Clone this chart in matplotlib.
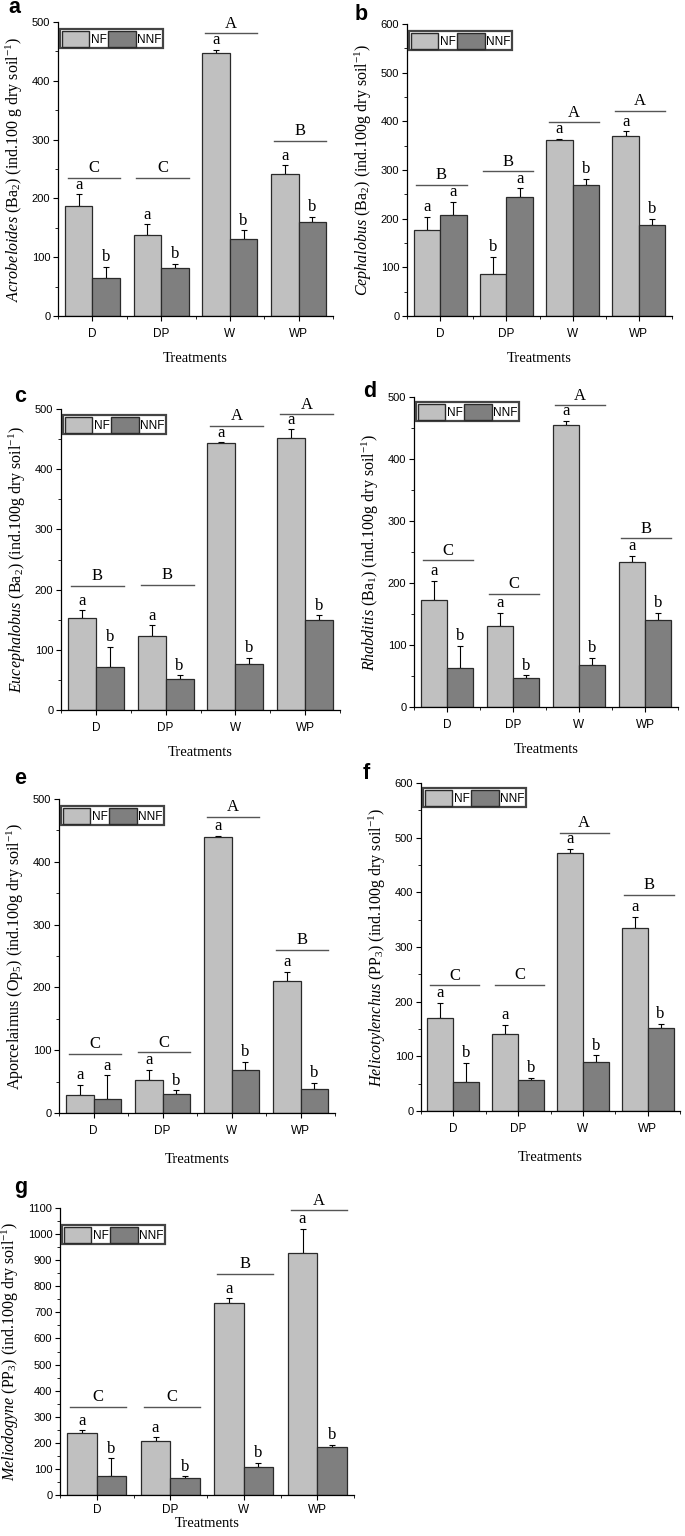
import matplotlib
matplotlib.use('Agg')
import matplotlib.pyplot as plt
import numpy as np
from matplotlib.patches import Patch
from matplotlib.ticker import MultipleLocator

plt.rcParams['mathtext.fontset'] = 'custom'
plt.rcParams['mathtext.rm'] = 'Liberation Serif'
plt.rcParams['mathtext.it'] = 'Liberation Serif:italic'
plt.rcParams['mathtext.bf'] = 'Liberation Serif:bold'

treatments = ['D', 'DP', 'W', 'WP']

# a - Acrobeloides
a_nf = [187, 137, 447, 241]
a_nf_se = [20, 19, 6, 15]
a_nnf = [65, 82, 131, 160]
a_nnf_se = [19, 7, 15, 9]
a_nf_let = ['a', 'a', 'a', 'a']
a_nnf_let = ['b', 'b', 'b', 'b']
a_grp = ['C', 'C', 'A', 'B']
a_grp_y = [235, 235, 481, 298]

# b - Cephalobus
b_nf = [176, 87, 362, 369]
b_nf_se = [28, 35, 2, 11]
b_nnf = [208, 244, 270, 188]
b_nnf_se = [27, 19, 12, 12]
b_nf_let = ['a', 'b', 'a', 'a']
b_nnf_let = ['a', 'a', 'b', 'b']
b_grp = ['B', 'B', 'A', 'A']
b_grp_y = [270, 297, 398, 422]

# c - Eucephalobus
c_nf = [153, 123, 443, 451]
c_nf_se = [13, 18, 2, 15]
c_nnf = [72, 52, 76, 149]
c_nnf_se = [33, 6, 11, 8]
c_nf_let = ['a', 'a', 'a', 'a']
c_nnf_let = ['b', 'b', 'b', 'b']
c_grp = ['B', 'B', 'A', 'A']
c_grp_y = [206, 208, 472, 491]

# d - Rhabditis
d_nf = [173, 131, 455, 234]
d_nf_se = [31, 21, 7, 10]
d_nnf = [63, 46, 68, 141]
d_nnf_se = [36, 5, 11, 11]
d_nf_let = ['a', 'a', 'a', 'a']
d_nnf_let = ['b', 'b', 'b', 'b']
d_grp = ['C', 'C', 'A', 'B']
d_grp_y = [237, 183, 487, 272]

# e - Aporcelaimus
e_nf = [28, 53, 439, 210]
e_nf_se = [17, 16, 2, 15]
e_nnf = [23, 31, 68, 38]
e_nnf_se = [37, 5, 14, 10]
e_nf_let = ['a', 'a', 'a', 'a']
e_nnf_let = ['a', 'b', 'b', 'b']
e_grp = ['C', 'C', 'A', 'B']
e_grp_y = [94, 97, 472, 260]

# f - Helicotylenchus
f_nf = [171, 141, 472, 335]
f_nf_se = [27, 17, 8, 20]
f_nnf = [53, 56, 90, 152]
f_nnf_se = [35, 5, 12, 8]
f_nf_let = ['a', 'a', 'a', 'a']
f_nnf_let = ['b', 'b', 'b', 'b']
f_grp = ['C', 'C', 'A', 'B']
f_grp_y = [230, 231, 509, 396]

# g - Meliodogyne
g_nf = [238, 206, 735, 929]
g_nf_se = [11, 16, 20, 92]
g_nnf = [72, 66, 106, 184]
g_nnf_se = [70, 7, 17, 9]
g_nf_let = ['a', 'a', 'a', 'a']
g_nnf_let = ['b', 'b', 'b', 'b']
g_grp = ['C', 'C', 'B', 'A']
g_grp_y = [339, 339, 848, 1091]

ylabels = {
    'a': r'$\it{Acrobeloides}$ (Ba$_2$) (ind.100 g dry soil$^{-1}$)',
    'b': r'$\it{Cephalobus}$ (Ba$_2$) (ind.100g dry soil$^{-1}$)',
    'c': r'$\it{Eucephalobus}$ (Ba$_2$) (ind.100g dry soil$^{-1}$)',
    'd': r'$\it{Rhabditis}$ (Ba$_1$) (ind.100g dry soil$^{-1}$)',
    'e': r'Aporcelaimus (Op$_5$) (ind.100g dry soil$^{-1}$)',
    'f': r'$\it{Helicotylenchus}$ (PP$_3$) (ind.100g dry soil$^{-1}$)',
    'g': r'$\it{Meliodogyne}$ (PP$_3$) (ind.100g dry soil$^{-1}$)',
}

panels = {
    'a': (a_nf, a_nf_se, a_nnf, a_nnf_se, a_nf_let, a_nnf_let, a_grp, a_grp_y),
    'b': (b_nf, b_nf_se, b_nnf, b_nnf_se, b_nf_let, b_nnf_let, b_grp, b_grp_y),
    'c': (c_nf, c_nf_se, c_nnf, c_nnf_se, c_nf_let, c_nnf_let, c_grp, c_grp_y),
    'd': (d_nf, d_nf_se, d_nnf, d_nnf_se, d_nf_let, d_nnf_let, d_grp, d_grp_y),
    'e': (e_nf, e_nf_se, e_nnf, e_nnf_se, e_nf_let, e_nnf_let, e_grp, e_grp_y),
    'f': (f_nf, f_nf_se, f_nnf, f_nnf_se, f_nf_let, f_nnf_let, f_grp, f_grp_y),
    'g': (g_nf, g_nf_se, g_nnf, g_nnf_se, g_nf_let, g_nnf_let, g_grp, g_grp_y),
}

W, H = 685, 1536
# axes boxes in pixels: left, top, right, bottom ; ymax, ystep
layout = {
    'a': (58, 22, 333, 316, 500, 100),
    'b': (407, 24, 672, 316, 600, 100),
    'c': (61, 409, 340, 710, 500, 100),
    'd': (414, 397, 678, 707, 500, 100),
    'e': (59, 799, 335, 1113, 500, 100),
    'f': (421, 783, 680, 1111, 600, 100),
    'g': (60, 1208, 354, 1495, 1100, 100),
}
# panel letter: left x, baseline y (pixels)
letter_pos = {'a': (8, 13), 'b': (355, 20), 'c': (14, 402), 'd': (363, 397),
              'e': (14, 784), 'f': (363, 779), 'g': (14, 1193)}
legend_top = {'a': 27, 'b': 29, 'c': 413, 'd': 400, 'e': 804, 'f': 786, 'g': 1223}
xlabel_pad = {'a': 9, 'b': 9, 'c': 9, 'd': 9, 'e': 12, 'f': 12, 'g': 1}
xtick_pad = {'a': 5, 'b': 5, 'c': 5, 'd': 5, 'e': 5, 'f': 5, 'g': 3}

NF_COL = '#c0c0c0'
NNF_COL = '#7f7f7f'
EDGE = '#2a2a2a'

fig = plt.figure(figsize=(W / 100, H / 100), dpi=100)
x = np.arange(len(treatments))
bw = 0.4

for key, (nf, nf_se, nnf, nnf_se, nf_let, nnf_let, grp, grp_y) in panels.items():
    l, t, r, b, ymax, ystep = layout[key]
    ax = fig.add_axes([l / W, 1 - b / H, (r - l) / W, (b - t) / H])
    ax.bar(x - bw / 2, nf, bw, color=NF_COL, edgecolor=EDGE, linewidth=0.9, zorder=2)
    ax.bar(x + bw / 2, nnf, bw, color=NNF_COL, edgecolor=EDGE, linewidth=0.9, zorder=2)
    ax.errorbar(x - bw / 2, nf, yerr=[np.zeros(4), nf_se], fmt='none', ecolor='black',
                elinewidth=0.8, capsize=2.5, capthick=0.8, zorder=1)
    ax.errorbar(x + bw / 2, nnf, yerr=[np.zeros(4), nnf_se], fmt='none', ecolor='black',
                elinewidth=0.8, capsize=2.5, capthick=0.8, zorder=1)

    pad = ymax * 0.005
    for i in range(4):
        ax.text(x[i] - bw / 2, nf[i] + nf_se[i] + pad, nf_let[i], ha='center', va='bottom',
                family='Liberation Serif', fontsize=12)
        ax.text(x[i] + bw / 2, nnf[i] + nnf_se[i] + pad, nnf_let[i], ha='center', va='bottom',
                family='Liberation Serif', fontsize=12)
        ax.plot([x[i] - 0.36, x[i] + 0.40], [grp_y[i], grp_y[i]], color='#555555', lw=1.0,
                clip_on=False)
        ax.text(x[i] + 0.02, grp_y[i] + pad, grp[i], ha='center', va='bottom',
                family='Liberation Serif', fontsize=12)

    ax.set_xlim(-0.5, 3.5)
    ax.set_ylim(0, ymax)
    ax.set_xticks(x)
    ax.set_xticklabels(treatments, family='Liberation Sans', fontsize=8.5)
    ax.xaxis.set_minor_locator(MultipleLocator(0.5))
    ax.yaxis.set_major_locator(MultipleLocator(ystep))
    ax.yaxis.set_minor_locator(MultipleLocator(ystep / 2))
    for lab in ax.get_yticklabels():
        lab.set_family('Liberation Sans')
        lab.set_fontsize(8)
    ax.tick_params(axis='both', which='major', direction='out', length=3.5, width=0.8, pad=2)
    ax.tick_params(axis='both', which='minor', direction='out', length=2, width=0.6)
    ax.tick_params(axis='x', which='major', pad=xtick_pad[key])
    ax.spines['top'].set_visible(False)
    ax.spines['right'].set_visible(False)
    ax.spines['left'].set_linewidth(0.9)
    ax.spines['bottom'].set_linewidth(0.9)
    ax.set_xlabel('Treatments', family='Liberation Serif', fontsize=10.5, labelpad=xlabel_pad[key])
    ax.set_ylabel(ylabels[key], family='Liberation Serif', fontsize=11.5, labelpad=5)

    handles = [Patch(facecolor=NF_COL, edgecolor=EDGE, label='NF'),
               Patch(facecolor=NNF_COL, edgecolor=EDGE, label='NNF')]
    top_frac = 1 - (legend_top[key] - t) / (b - t)
    leg = ax.legend(handles=handles, loc='upper left', bbox_to_anchor=(0.0, top_frac), ncol=2,
                    prop={'family': 'Liberation Sans', 'size': 8.5}, handlelength=2.3,
                    handleheight=1.7, handletextpad=0.15, columnspacing=0.15, borderpad=0.12,
                    borderaxespad=0.2, fancybox=False, framealpha=1)
    leg.get_frame().set_edgecolor('#444444')
    leg.get_frame().set_linewidth(1.6)

    lx, ly = letter_pos[key]
    fig.text(lx / W, 1 - ly / H, key, family='Liberation Sans', fontweight='bold', fontsize=15.5,
             ha='left', va='baseline')

fig.savefig('out.png', dpi=100)
